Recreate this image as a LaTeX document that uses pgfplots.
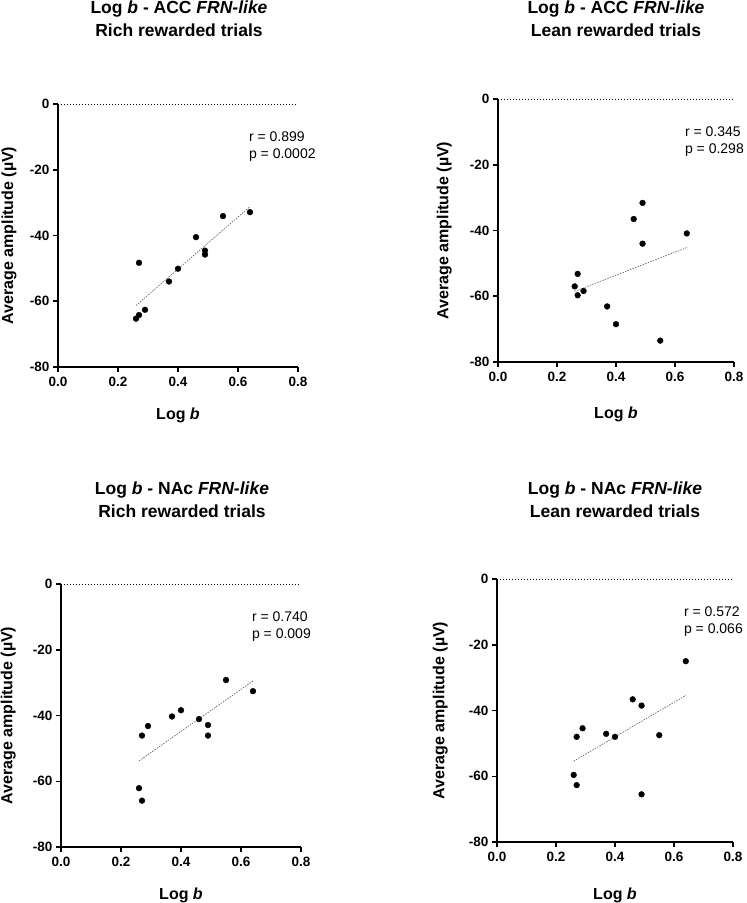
\documentclass[border=0pt]{standalone}
\usepackage{pgfplots}
\pgfplotsset{compat=1.18}
\usepackage{fontspec}
\setmainfont{Liberation Sans}

\pgfplotsset{
  panel/.style={
    scale only axis, width=240pt, height=263pt,
    xmin=0, xmax=0.8, ymin=-80, ymax=0,
    axis x line*=bottom, axis y line*=left,
    axis line style={line width=1.8pt, black},
    xtick={0,0.2,0.4,0.6,0.8}, xticklabels={0.0,0.2,0.4,0.6,0.8},
    ytick={-80,-60,-40,-20,0}, yticklabels={-80,-60,-40,-20,0},
    tick align=outside, major tick length=5pt,
    tick style={line width=1.5pt, black},
    ticklabel style={font=\fontsize{13.5}{15}\selectfont\bfseries},
    xticklabel style={yshift=-2pt},
    label style={font=\fontsize{16}{19}\selectfont\bfseries},
    xlabel={Log \textit{b}},
    ylabel={Average amplitude (µV)},
    clip=false,
  },
  dots/.style={only marks, mark=*, mark size=2.9pt, black},
  fit/.style={no marks, line width=0.6pt, gray!70!black, dash pattern=on 1.5pt off 1.2pt},
  zero/.style={no marks, line width=0.9pt, black, dash pattern=on 0.9pt off 2.1pt},
}
\tikzset{ann/.style={anchor=north west, align=left, font=\fontsize{14}{16.5}\selectfont}}

\begin{document}
\begin{tikzpicture}
\path[use as bounding box] (0pt,0pt) rectangle (747pt,903pt);

% ---------- Panel 1 ----------
\begin{axis}[panel, at={(58pt,536pt)}, anchor=south west,
  xlabel style={at={(axis description cs:0.5,-0.183)}, anchor=center},
  ylabel style={at={(axis description cs:-0.204,0.5)}, anchor=center}]
\addplot[zero] coordinates {(0,0) (0.8,0)};
\addplot[fit] coordinates {(0.26,-61.3) (0.64,-31.2)};
\addplot[dots] coordinates {
(0.26,-65.3) (0.27,-64.2) (0.27,-48.3) (0.29,-62.6) (0.37,-54.0)
(0.40,-50.1) (0.46,-40.5) (0.49,-44.6) (0.49,-45.8) (0.55,-34.1) (0.64,-32.9)};
\node[ann] at (axis cs:0.625,-7.5) {r = 0.899\\p = 0.0002};
\end{axis}

% ---------- Panel 2 ----------
\begin{axis}[panel, width=236pt, at={(498pt,541pt)}, anchor=south west,
  xlabel style={at={(axis description cs:0.5,-0.2)}, anchor=center},
  ylabel style={at={(axis description cs:-0.228,0.5)}, anchor=center}]
\addplot[zero] coordinates {(0,0) (0.8,0)};
\addplot[fit] coordinates {(0.26,-58.5) (0.64,-45.2)};
\addplot[dots] coordinates {
(0.26,-57.0) (0.27,-53.2) (0.27,-59.7) (0.29,-58.4) (0.37,-63.1)
(0.40,-68.5) (0.46,-36.5) (0.49,-31.6) (0.49,-44.0) (0.55,-73.5) (0.64,-40.9)};
\node[ann] at (axis cs:0.622,-7.5) {r = 0.345\\p = 0.298};
\end{axis}

% ---------- Panel 3 ----------
\begin{axis}[panel, at={(61pt,56pt)}, anchor=south west,
  xlabel style={at={(axis description cs:0.5,-0.183)}, anchor=center},
  ylabel style={at={(axis description cs:-0.22,0.5)}, anchor=center}]
\addplot[zero] coordinates {(0,0) (0.8,0)};
\addplot[fit] coordinates {(0.26,-53.8) (0.64,-29.5)};
\addplot[dots] coordinates {
(0.26,-62.1) (0.27,-65.9) (0.27,-46.1) (0.29,-43.2) (0.37,-40.3)
(0.40,-38.4) (0.46,-41.1) (0.49,-42.9) (0.49,-46.1) (0.55,-29.2) (0.64,-32.6)};
\node[ann] at (axis cs:0.625,-7.5) {r = 0.740\\p = 0.009};
\end{axis}

% ---------- Panel 4 ----------
\begin{axis}[panel, width=236pt, at={(497pt,61pt)}, anchor=south west,
  xlabel style={at={(axis description cs:0.5,-0.203)}, anchor=center},
  ylabel style={at={(axis description cs:-0.24,0.5)}, anchor=center}]
\addplot[zero] coordinates {(0,0) (0.8,0)};
\addplot[fit] coordinates {(0.26,-55.4) (0.64,-35.4)};
\addplot[dots] coordinates {
(0.26,-59.6) (0.27,-62.7) (0.27,-48.0) (0.29,-45.4) (0.37,-47.1)
(0.40,-48.0) (0.46,-36.6) (0.49,-38.5) (0.49,-65.5) (0.55,-47.5) (0.64,-25.0)};
\node[ann] at (axis cs:0.622,-7.5) {r = 0.572\\p = 0.066};
\end{axis}

% ---------- Titles ----------
\begin{scope}[every node/.style={align=center, anchor=center, font=\fontsize{17.5}{23}\selectfont\bfseries}]
\node at (179pt,884pt) {Log \textit{b} - ACC \textit{FRN-like}\\Rich rewarded trials};
\node at (616pt,884pt) {Log \textit{b} - ACC \textit{FRN-like}\\Lean rewarded trials};
\node at (182pt,403.5pt) {Log \textit{b} - NAc \textit{FRN-like}\\Rich rewarded trials};
\node at (615pt,403.5pt) {Log \textit{b} - NAc \textit{FRN-like}\\Lean rewarded trials};
\end{scope}
\end{tikzpicture}
\end{document}
